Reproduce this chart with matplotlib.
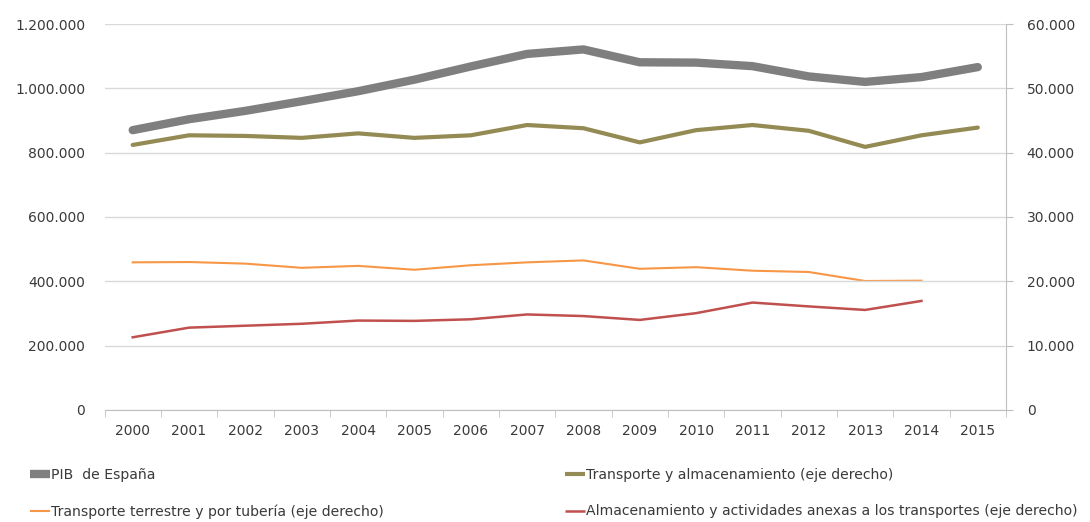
import matplotlib.pyplot as plt
import matplotlib.ticker as mticker
import numpy as np

years = ['2000', '2001', '2002', '2003', '2004', '2005', '2006', '2007',
         '2008', '2009', '2010', '2011', '2012', '2013', '2014', '2015']

pib = [870000, 904000, 930000, 960000, 991000, 1027000, 1068000, 1107000,
       1121000, 1081000, 1080000, 1069000, 1037000, 1020000, 1035000, 1066000]

transporte_alm = [41200, 42700, 42600, 42300, 43000, 42300, 42700, 44300,
                  43800, 41600, 43500, 44300, 43400, 40900, 42700, 43900]

terrestre = [22950, 23000, 22750, 22100, 22400, 21800, 22500, 22950,
             23250, 21950, 22200, 21650, 21450, 20050, 20100]

almacen = [11300, 12800, 13100, 13400, 13900, 13850, 14100, 14850,
           14600, 14000, 15050, 16700, 16100, 15550, 16950]

labels = ['PIB  de España',
          'Transporte y almacenamiento (eje derecho)',
          'Transporte terrestre y por tubería (eje derecho)',
          'Almacenamiento y actividades anexas a los transportes (eje derecho)']

txt = '#3a3a3a'
plt.rcParams['font.family'] = ['DejaVu Sans']

fig = plt.figure(figsize=(10.9, 5.22), dpi=100)
ax = fig.add_axes([0.0959, 0.2146, 0.827, 0.7394])
ax2 = ax.twinx()

x = np.arange(len(years))
l1, = ax.plot(x, pib, color='#7f7f7f', lw=6, solid_capstyle='round', zorder=5)
l2, = ax2.plot(x, transporte_alm, color='#948a54', lw=3, solid_capstyle='round')
l3, = ax2.plot(x[:len(terrestre)], terrestre, color='#f79646', lw=1.5)
l4, = ax2.plot(x[:len(almacen)], almacen, color='#c0504d', lw=1.8)

ax.set_zorder(ax2.get_zorder() + 1)
ax.patch.set_visible(False)

ax.set_xlim(-0.5, len(years) - 0.5)
ax.set_ylim(0, 1200000)
ax2.set_ylim(0, 60000)
ax.set_yticks(np.arange(0, 1200001, 200000))
ax2.set_yticks(np.arange(0, 60001, 10000))

fmt = mticker.FuncFormatter(lambda v, p: f'{int(v):,}'.replace(',', '.'))
ax.yaxis.set_major_formatter(fmt)
ax2.yaxis.set_major_formatter(fmt)

ax.grid(axis='y', color='#d9d9d9', lw=1)
ax.set_axisbelow(True)

ax.set_xticks(x)
ax.set_xticklabels(years)
ax.set_xticks(np.arange(-0.5, len(years), 1), minor=True)
ax.tick_params(axis='x', which='major', length=0, pad=10, labelsize=10, labelcolor=txt)
ax.tick_params(axis='x', which='minor', length=5, color='#bfbfbf', direction='out')
ax.tick_params(axis='y', length=0, pad=14, labelsize=10, labelcolor=txt)
ax2.tick_params(axis='y', length=5, color='#bfbfbf', pad=10, labelsize=10, labelcolor=txt)

for a in (ax, ax2):
    for s in ('top', 'left'):
        a.spines[s].set_visible(False)
ax.spines['right'].set_visible(False)
ax2.spines['bottom'].set_visible(False)
ax.spines['bottom'].set_color('#bfbfbf')
ax2.spines['right'].set_color('#bfbfbf')

leg_kw = dict(frameon=False, handlelength=1.4, handletextpad=0.1,
              labelspacing=1.6, fontsize=10.1, loc='upper left', borderpad=0,
              borderaxespad=0)
lg1 = fig.legend([l1, l3], [labels[0], labels[2]],
                 bbox_to_anchor=(30 / 1090, 1 - 468 / 522), **leg_kw)
lg2 = fig.legend([l2, l4], [labels[1], labels[3]],
                 bbox_to_anchor=(565 / 1090, 1 - 468 / 522), **leg_kw)
for lg in (lg1, lg2):
    for t in lg.get_texts():
        t.set_color(txt)
    for h in lg.get_lines():
        h.set_solid_capstyle('butt')

fig.savefig('out.png', dpi=100)
